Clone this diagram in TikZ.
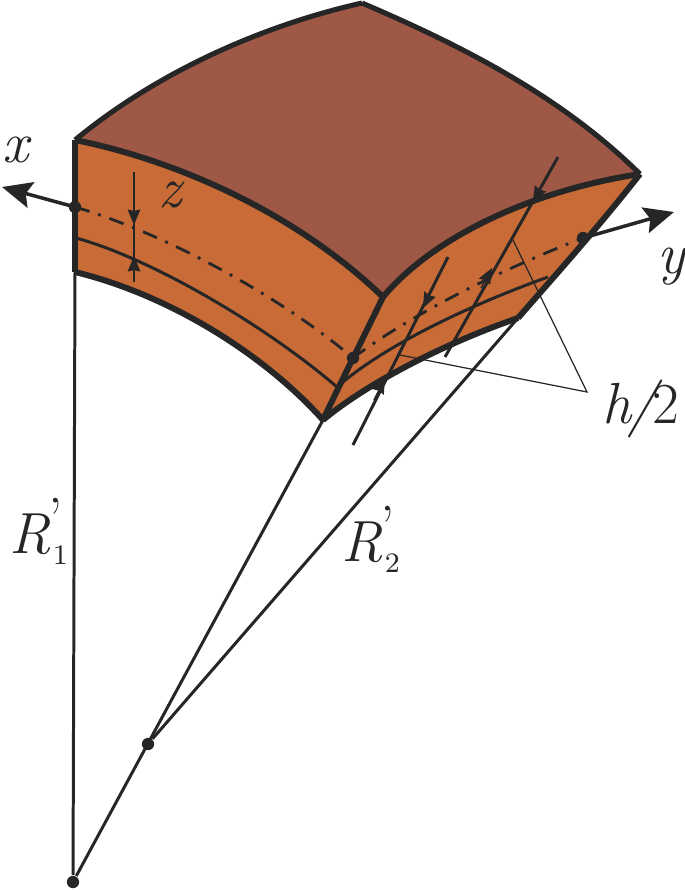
\documentclass[tikz,border=0pt]{standalone}
\usetikzlibrary{arrows.meta}
\definecolor{topbrown}{RGB}{160,88,70}
\definecolor{sideorange}{RGB}{200,107,55}
\definecolor{inkdark}{RGB}{38,38,38}
\newcommand{\radlabel}[1]{R\rlap{\kern-0.5pt\raisebox{4.2pt}{\smash{\upshape ’}}}\rlap{\kern 0.6pt\raisebox{-3.4pt}{\fontsize{8}{8}\selectfont\upshape #1}}}
\tikzset{
  edge/.style={inkdark,line width=1.7pt,line join=round},
  outeredge/.style={inkdark,line width=1.45pt,line join=round},
  thinline/.style={inkdark,line width=0.85pt},
  midline/.style={inkdark,line width=0.85pt},
  dimline/.style={inkdark,line width=0.85pt},
  leader/.style={inkdark,line width=0.35pt},
  axisline/.style={inkdark,line width=1pt,-{Stealth[length=8.5pt,width=7.5pt,inset=1.5pt]}},
  dashdot/.style={inkdark,line width=0.8pt,dash pattern=on 4.3pt off 2.6pt on 0.8pt off 2.6pt},
  tipin/.style={inkdark,-{Stealth[length=4.4pt,width=3.6pt,inset=0.4pt]}},
  dotmark/.style={circle,fill=inkdark,inner sep=0pt,minimum size=3.5pt},
  lab/.style={anchor=base,inkdark,font=\fontsize{16.5}{18}\selectfont\itshape,inner sep=0pt},
}
\begin{document}
\begin{tikzpicture}[x=0.01cm,y=-0.01cm]
  \useasboundingbox (0,0) rectangle (685,890);
  % corners of the shell element
  \coordinate (A) at (75,140);
  \coordinate (B) at (75,272);
  \coordinate (T) at (362,3);
  \coordinate (F) at (640,174);
  \coordinate (C) at (383,297);
  \coordinate (D) at (323,420);
  \coordinate (E) at (518,318);
  % faces
  \fill[sideorange] (A) .. controls (175,160) and (295,212) .. (C) .. controls (368,328) and (338,388) .. (D)
    .. controls (265,355) and (170,295) .. (B) -- cycle;
  \fill[sideorange] (C) .. controls (435,235) and (535,190) .. (F) .. controls (600,225) and (560,270) .. (E)
    .. controls (440,345) and (365,385) .. (D) .. controls (338,388) and (368,328) .. (C) -- cycle;
  \fill[topbrown] (A) .. controls (160,70) and (265,25) .. (T) .. controls (460,45) and (560,95) .. (F)
    .. controls (535,190) and (435,235) .. (C) .. controls (295,212) and (175,160) .. (A) -- cycle;
  % middle surface and bottom-layer lines
  \coordinate (ml) at (75,207);
  \coordinate (mc) at (353,358);
  \coordinate (mr) at (583,238);
  \draw[dashdot] (ml) .. controls (170,235) and (285,300) .. (mc);
  \draw[dashdot] (mc) .. controls (410,315) and (500,270) .. (mr);
  \draw[midline] (76,238) .. controls (150,258) and (265,325) .. (337,387);
  \draw[midline] (337,387) .. controls (385,345) and (470,305) .. (548,277);
  % centres of curvature
  \node[dotmark] (O1) at (73,882) {};
  \node[dotmark] (O2) at (148,744) {};
  \draw[thinline] (B) -- (O1);
  \draw[thinline] (O1) -- (D);
  \draw[thinline] (O2) -- (E);
  % h/2 leaders
  \coordinate (h) at (587,392);
  \draw[leader] (513,240) -- (h) -- (400,355);
  % thickness dimensions
  \draw[dimline] (134,172) -- (134,282);
  \draw[tipin] (134,205) -- (134,225);
  \draw[tipin] (134,275) -- (134,256);
  \draw[dimline] (558,157) -- (445,357);
  \draw[tipin] (545,180) -- (533,202);
  \draw[tipin] (481,288) -- (492,268);
  \draw[dimline] (448,257) -- (353,445);
  \draw[tipin] (434,286) -- (423,308);
  \draw[tipin] (374,400) -- (385,378);
  % outline
  \draw[edge] (A) -- (B);
  \draw[edge] (A) .. controls (175,160) and (295,212) .. (C);
  \draw[edge] (B) .. controls (170,295) and (265,355) .. (D);
  \draw[edge] (C) .. controls (368,328) and (338,388) .. (D);
  \draw[edge] (C) .. controls (435,235) and (535,190) .. (F);
  \draw[edge] (D) .. controls (365,385) and (440,345) .. (E);
  \draw[edge] (E) .. controls (560,270) and (600,225) .. (F);
  \draw[outeredge] (A) .. controls (160,70) and (265,25) .. (T);
  \draw[outeredge] (T) .. controls (460,45) and (560,95) .. (F);
  % axes
  \coordinate (xtip) at (2,187);
  \coordinate (ytip) at (674,212);
  \draw[axisline] (ml) -- (xtip);
  \draw[axisline] (mr) -- (ytip);
  \node[dotmark] (mla) at (ml) {};
  \node[dotmark] (mca) at (mc) {};
  \node[dotmark] (mra) at (mr) {};
  % labels
  \node[lab] (xlab) at (16,162) {x};
  \node[lab] (zlab) at (170,207) {z};
  \node[lab] (ylab) at (671,273) {y};
  \node[lab] (hlab) at (641,423) {h\kern-1.2pt/\kern-1.2pt\textup{2}};
  \node[lab] (r1lab) at (30,553) {\radlabel{1}};
  \node[lab] (r2lab) at (362,561) {\radlabel{2}};
\end{tikzpicture}
\end{document}
